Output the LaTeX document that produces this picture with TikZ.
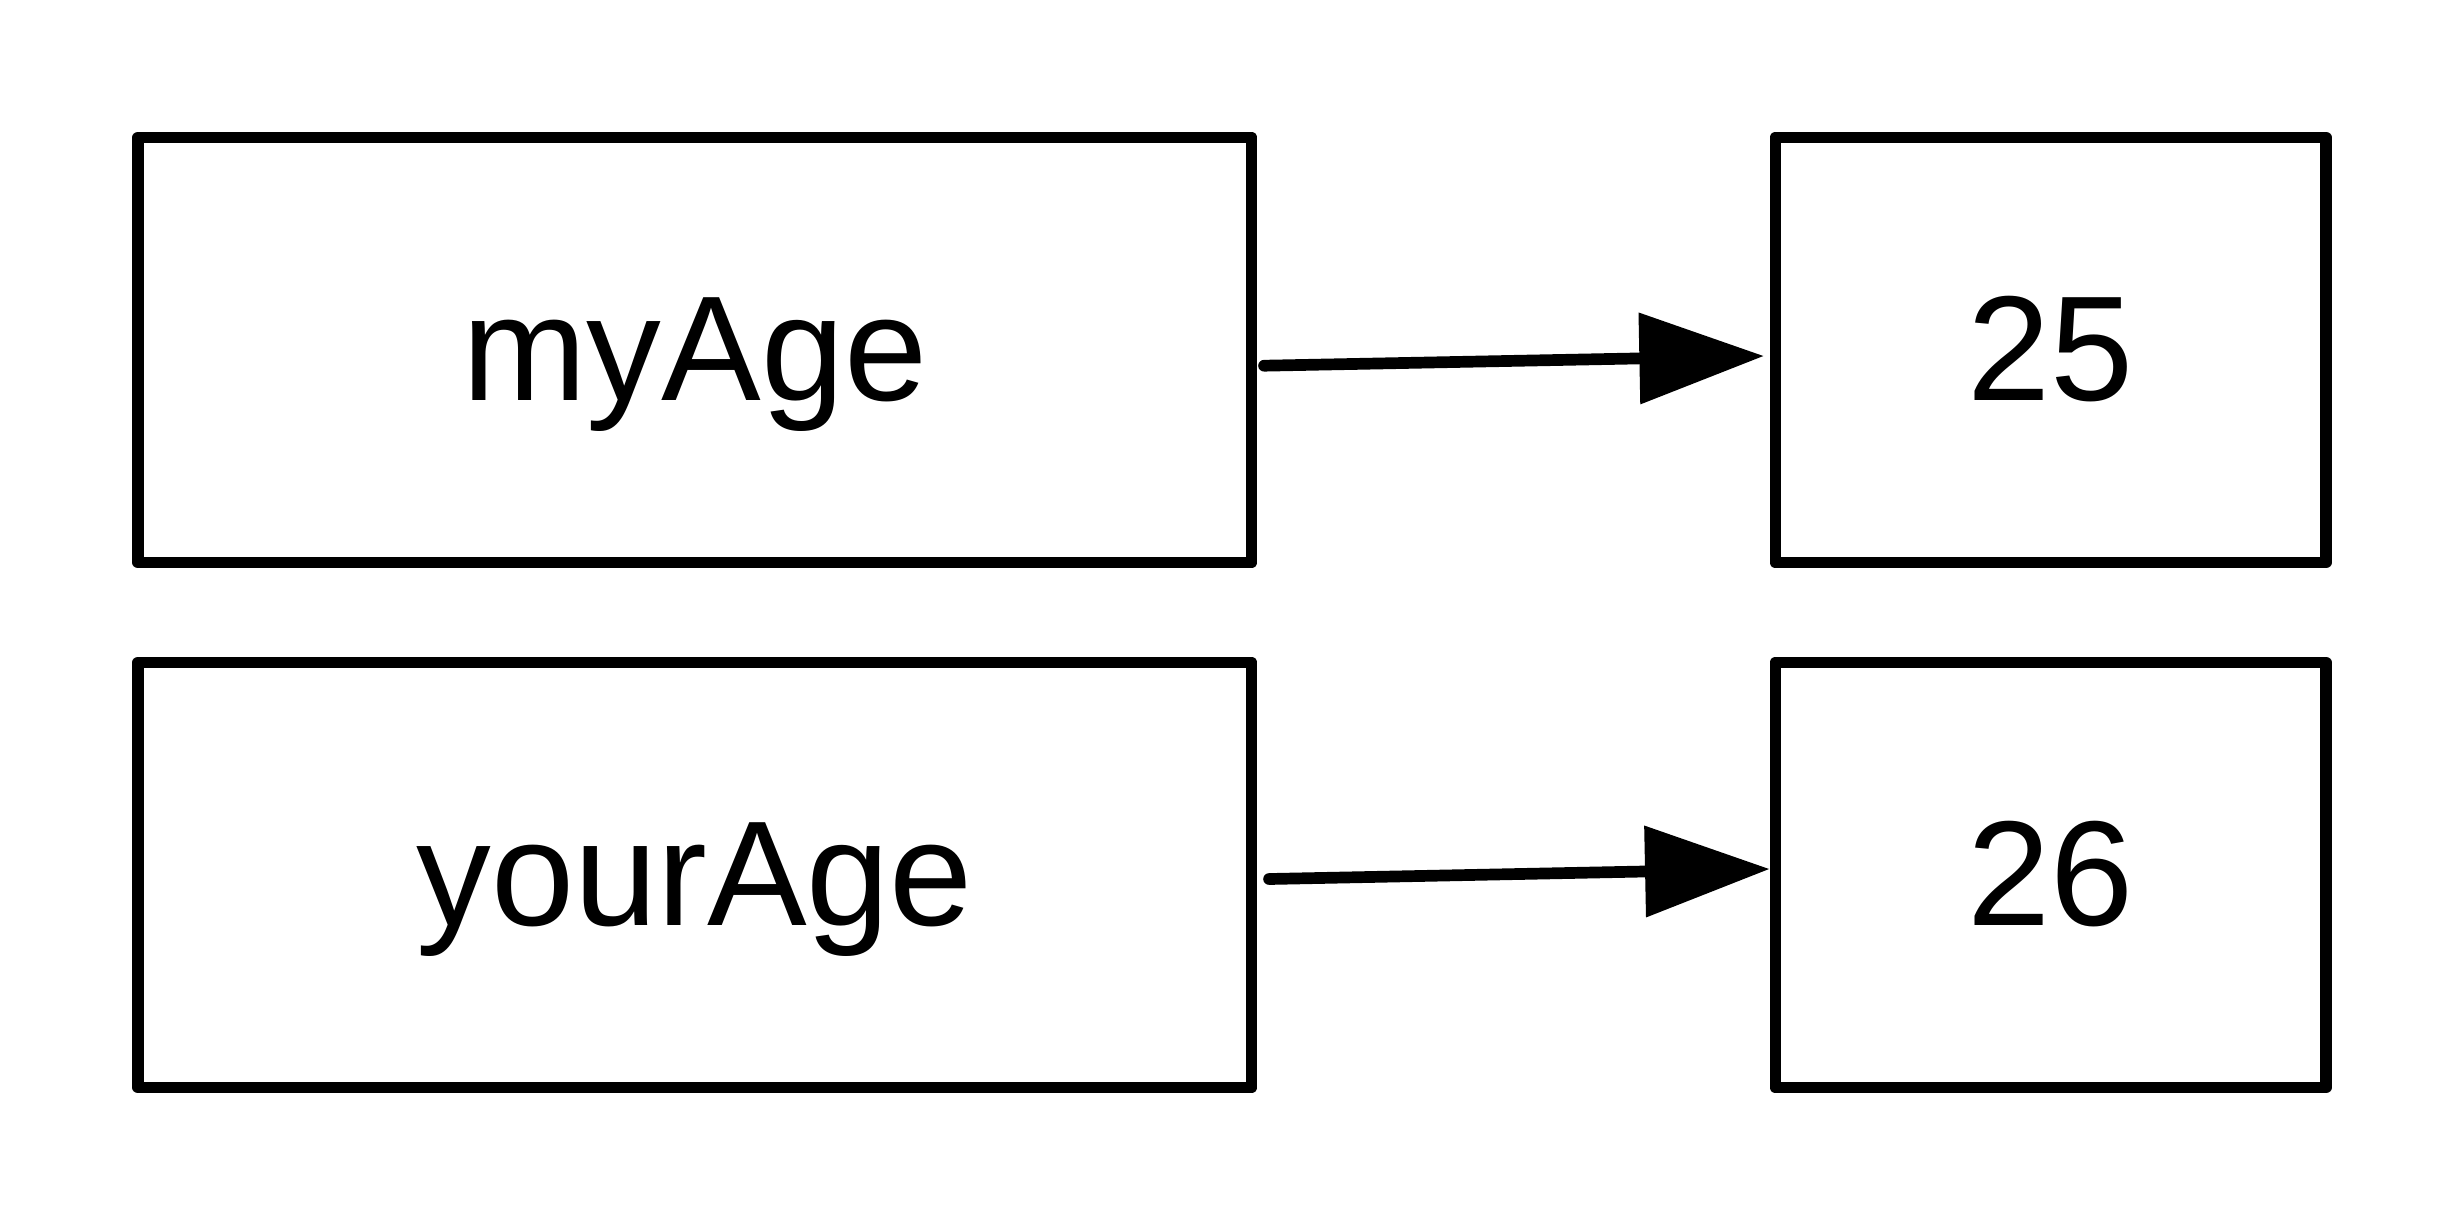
\documentclass[tikz,border=0pt]{standalone}
\usepackage{fontspec}
\setmainfont{Liberation Sans}
\usetikzlibrary{arrows.meta}
\begin{document}
\begin{tikzpicture}[x=0.1mm,y=-0.1mm,
  cell/.style={draw=black, line width=1.17mm, line join=round, rectangle,
    inner sep=0pt, minimum height=42.5mm, text height=12mm, text depth=2mm,
    font=\fontsize{42.52pt}{50pt}\selectfont},
  namebox/.style={cell, minimum width=111.35mm},
  valbox/.style={cell, minimum width=55.06mm},
  ptr/.style={draw=black, line width=1.17mm, line cap=round,
    -{Triangle[length=12.4mm,width=9.2mm,line width=0pt]}}]
\useasboundingbox (0,0) rectangle (2462,1225);
\node[namebox] (myAge) at (694.75,350) {myAge};
\node[valbox] (v25) at (2050.7,350) {25};
\node[namebox] (yourAge) at (694.75,875) {yourAge};
\node[valbox] (v26) at (2050.7,875) {26};
\draw[ptr] ([xshift=0.67mm,yshift=-1.57mm]myAge.east) -- ([xshift=-0.62mm,yshift=-0.6mm]v25.west);
\draw[ptr] ([xshift=1.17mm,yshift=-0.4mm]yourAge.east) -- ([xshift=-0.05mm,yshift=0.6mm]v26.west);
\end{tikzpicture}
\end{document}
